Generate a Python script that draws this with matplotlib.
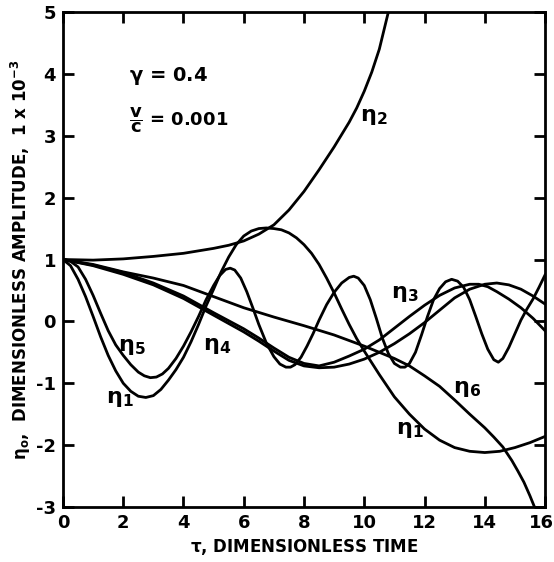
import matplotlib
matplotlib.use("Agg")
import matplotlib.pyplot as plt
from matplotlib.transforms import ScaledTranslation

# values (tau, amplitude)
eta1_t = [0, 0.25, 0.5, 0.75, 1.0, 1.25, 1.5, 1.75, 2.0, 2.25, 2.5, 2.75, 3.0, 3.25, 3.5,
          3.75, 4.0, 4.25, 4.5, 4.75, 5.0, 5.25, 5.5, 5.75, 6.0, 6.25, 6.5, 6.75, 7.0, 7.25,
          7.5, 7.75, 8.0, 8.25, 8.5, 8.75, 9.0, 9.25, 9.5, 9.75, 10.0, 10.25, 10.5, 10.75,
          11.0, 11.5, 12.0, 12.5, 13.0, 13.5, 14.0, 14.5, 15.0, 15.5, 16.0]
eta1_y = [1.0, 0.9, 0.68, 0.4, 0.08, -0.25, -0.55, -0.8, -1.0, -1.13, -1.21, -1.23, -1.2,
          -1.1, -0.95, -0.78, -0.58, -0.33, -0.05, 0.25, 0.52, 0.8, 1.04, 1.24, 1.38, 1.46,
          1.5, 1.51, 1.5, 1.48, 1.43, 1.35, 1.24, 1.1, 0.92, 0.7, 0.46, 0.2, -0.05, -0.28,
          -0.48, -0.67, -0.86, -1.04, -1.22, -1.5, -1.74, -1.92, -2.04, -2.1, -2.12, -2.1,
          -2.04, -1.96, -1.86]

eta2_t = [0, 1, 2, 3, 4, 5, 5.5, 6, 6.5, 7, 7.5, 8, 8.5, 9, 9.5, 9.75, 10, 10.25, 10.5, 10.8]
eta2_y = [1.0, 0.99, 1.01, 1.05, 1.1, 1.18, 1.23, 1.3, 1.41, 1.56, 1.8, 2.1, 2.45, 2.82,
          3.22, 3.45, 3.72, 4.03, 4.4, 5.0]

eta3_t = [0, 1, 2, 3, 4, 5, 6, 6.5, 7, 7.5, 8, 8.5, 9, 9.5, 10, 10.5, 11, 11.5, 12, 12.5,
          13, 13.5, 13.8, 14.1, 14.4, 14.8, 15.2, 15.6, 16.0]
eta3_y = [1.0, 0.91, 0.79, 0.62, 0.41, 0.14, -0.12, -0.27, -0.43, -0.58, -0.68, -0.72,
          -0.66, -0.56, -0.45, -0.3, -0.11, 0.08, 0.26, 0.42, 0.54, 0.6, 0.6, 0.56, 0.48,
          0.36, 0.22, 0.05, -0.15]

eta4_t = [0, 1, 2, 3, 4, 5, 6, 6.5, 7, 7.5, 8, 8.5, 9, 9.5, 10, 10.5, 11, 11.5, 12, 12.5,
          13, 13.5, 14.0, 14.4, 14.8, 15.2, 15.6, 16.0]
eta4_y = [1.0, 0.9, 0.76, 0.59, 0.37, 0.1, -0.17, -0.32, -0.48, -0.63, -0.72, -0.75, -0.74,
          -0.69, -0.61, -0.5, -0.36, -0.2, -0.02, 0.18, 0.38, 0.52, 0.6, 0.62, 0.59, 0.52,
          0.41, 0.28]

eta5_t = [0, 0.25, 0.5, 0.75, 1.0, 1.25, 1.5, 1.75, 2.0, 2.25, 2.5, 2.7, 2.9, 3.1, 3.3,
          3.5, 3.75, 4.0, 4.25, 4.5, 4.75, 5.0, 5.2, 5.4, 5.55, 5.7, 5.9, 6.1, 6.3, 6.5,
          6.75, 7.0, 7.2, 7.4, 7.55, 7.7, 7.9, 8.1, 8.3, 8.5, 8.75, 9.0, 9.25, 9.5, 9.65,
          9.8, 10.0, 10.2, 10.4, 10.6, 10.8, 11.0, 11.2, 11.35, 11.5, 11.7, 11.9, 12.1,
          12.3, 12.5, 12.7, 12.9, 13.1, 13.3, 13.5, 13.7, 13.9, 14.1, 14.3, 14.45, 14.6,
          14.8, 15.0, 15.2, 15.4, 15.6, 15.8, 16.0]
eta5_y = [1.0, 0.97, 0.88, 0.68, 0.42, 0.13, -0.15, -0.38, -0.55, -0.7, -0.82, -0.88,
          -0.91, -0.9, -0.85, -0.76, -0.6, -0.4, -0.17, 0.08, 0.35, 0.58, 0.74, 0.84, 0.86,
          0.83, 0.7, 0.48, 0.22, -0.05, -0.35, -0.57, -0.69, -0.74, -0.74, -0.7, -0.58,
          -0.4, -0.2, 0.02, 0.27, 0.47, 0.62, 0.71, 0.73, 0.7, 0.58, 0.35, 0.05, -0.27,
          -0.52, -0.68, -0.74, -0.74, -0.68, -0.5, -0.22, 0.08, 0.35, 0.53, 0.64, 0.68,
          0.65, 0.55, 0.35, 0.08, -0.2, -0.45, -0.62, -0.66, -0.6, -0.42, -0.2, 0.02, 0.2,
          0.36, 0.55, 0.75]

eta6_t = [0, 0.5, 1, 1.5, 2, 3, 4, 5, 6, 7, 8, 9, 10, 11, 11.5, 12, 12.5, 13, 13.5, 14,
          14.3, 14.6, 14.9, 15.1, 15.3, 15.5, 15.7]
eta6_y = [1.0, 0.96, 0.92, 0.86, 0.8, 0.7, 0.58, 0.4, 0.22, 0.07, -0.07, -0.22, -0.4,
          -0.6, -0.72, -0.88, -1.05, -1.27, -1.5, -1.72, -1.87, -2.03, -2.25, -2.42, -2.6,
          -2.82, -3.06]

xticks = [0, 2, 4, 6, 8, 10, 12, 14, 16]
yticks = [-3, -2, -1, 0, 1, 2, 3, 4, 5]

plt.rcParams['font.family'] = 'DejaVu Sans'
plt.rcParams['font.weight'] = 'bold'
plt.rcParams['mathtext.default'] = 'regular'
plt.rcParams['axes.unicode_minus'] = False

fig = plt.figure(figsize=(5.54, 5.62), dpi=100)
ax = fig.add_axes([0.1137, 0.0979, 0.8701, 0.8807])

for t, y in [(eta1_t, eta1_y), (eta2_t, eta2_y), (eta3_t, eta3_y),
             (eta4_t, eta4_y), (eta5_t, eta5_y), (eta6_t, eta6_y)]:
    ax.plot(t, y, color="black", lw=2.0, solid_joinstyle="round")

ax.set_xlim(0, 16)
ax.set_ylim(-3, 5)
ax.set_xticks(xticks)
ax.set_yticks(yticks)
ax.tick_params(direction="in", length=8, width=2, top=True, right=True,
               labelsize=13, pad=5)
for s in ax.spines.values():
    s.set_linewidth(2)

# last x label sits against the edge of the picture
last = ax.get_xticklabels()[-1]
last.set_transform(last.get_transform() + ScaledTranslation(-4 / 100, 0, fig.dpi_scale_trans))

ax.set_xlabel(r"$\tau$, DIMENSIONLESS TIME", fontsize=12, fontweight="bold", labelpad=4)
ax.set_ylabel(r"$\eta_o$,  DIMENSIONLESS AMPLITUDE,  1 x 10$^{-3}$", fontsize=12,
              fontweight="bold", labelpad=2)

# curve labels
lab = dict(fontsize=16, ha="center", va="center")
ax.text(10.3, 3.3, r"$\mathbf{\eta_2}$", **lab)
ax.text(2.3, -0.42, r"$\mathbf{\eta_5}$", **lab)
ax.text(1.9, -1.25, r"$\mathbf{\eta_1}$", **lab)
ax.text(5.1, -0.39, r"$\mathbf{\eta_4}$", **lab)
ax.text(11.35, 0.45, r"$\mathbf{\eta_3}$", **lab)
ax.text(13.4, -1.1, r"$\mathbf{\eta_6}$", **lab)
ax.text(11.5, -1.76, r"$\mathbf{\eta_1}$", **lab)

ax.text(2.2, 3.97, r"$\gamma$ = 0.4", fontsize=14, va="center")
ax.text(2.2, 3.25, r"$\dfrac{v}{c}$ = 0.001", fontsize=13, va="center")

fig.savefig("out.png", dpi=100)
